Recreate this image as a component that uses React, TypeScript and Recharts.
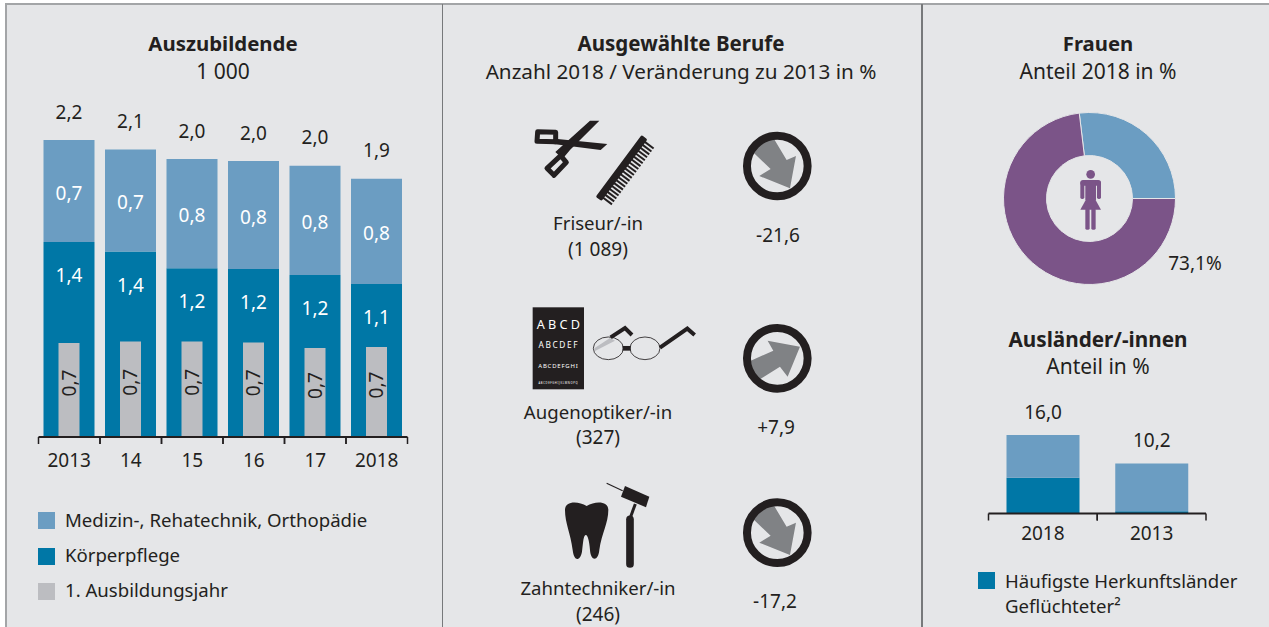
import React from "react";
import { BarChart, Bar, XAxis, YAxis, LabelList, PieChart, Pie, Cell } from "recharts";

// Auszubildende (1 000)
const jahre = ["2013", "14", "15", "16", "17", "2018"];
const medizin = [0.756, 0.756, 0.81, 0.8, 0.81, 0.78];
const koerperpflege = [1.444, 1.374, 1.25, 1.245, 1.2, 1.133];
const ersteJahr = [0.696, 0.707, 0.707, 0.7, 0.659, 0.667];
const medizinLabels = ["0,7", "0,7", "0,8", "0,8", "0,8", "0,8"];
const koerperLabels = ["1,4", "1,4", "1,2", "1,2", "1,2", "1,1"];
const ersteLabels = ["0,7", "0,7", "0,7", "0,7", "0,7", "0,7"];
const summenLabels = ["2,2", "2,1", "2,0", "2,0", "2,0", "1,9"];

// Frauen
const frauenAnteil = [26.9, 73.1];

// Ausländer/-innen
const auslJahre = ["2018", "2013"];
const gefluechtete = [7.3, 0.45];
const sonstige = [8.7, 9.75];
const auslLabels = ["16,0", "10,2"];

const azubiRows = jahre.map((jahr, i) => ({
  jahr,
  medizin: medizin[i],
  koerperpflege: koerperpflege[i],
  ersteJahr: ersteJahr[i],
  medizinLabel: medizinLabels[i],
  koerperLabel: koerperLabels[i],
  ersteLabel: ersteLabels[i],
  summeLabel: summenLabels[i],
}));
const auslRows = auslJahre.map((jahr, i) => ({
  jahr,
  gefluechtete: gefluechtete[i],
  sonstige: sonstige[i],
  label: auslLabels[i],
}));

const HELL = "#6b9dc2";
const DUNKEL = "#0077a6";
const GRAU = "#bcbdc1";
const LILA = "#7b5488";
const INK = "#231f20";
const BG = "#e5e6e8";
const FONT = "'Noto Sans', sans-serif";
const FS = 19;

function Txt({ x, y, bold, left, size, color, children }: any) {
  return (
    <div
      style={{
        position: "absolute",
        left: x,
        top: y,
        transform: left ? "translateY(-50%)" : "translate(-50%,-50%)",
        whiteSpace: "nowrap",
        fontFamily: FONT,
        fontSize: size || FS,
        lineHeight: 1,
        fontWeight: bold ? 700 : 400,
        color: color || INK,
      }}
    >
      {children}
    </div>
  );
}

function Swatch({ x, y, color }: any) {
  return <div style={{ position: "absolute", left: x, top: y, width: 17, height: 17, background: color }} />;
}

// tick marks sit on the band edges, the label in the middle
const bandTick = (band: number, textY: number) => (props: any) => {
  const { x, y, payload } = props;
  return (
    <g>
      <line x1={x - band / 2} x2={x - band / 2} y1={y} y2={y + 7} stroke={INK} strokeWidth={1.5} />
      <line x1={x + band / 2} x2={x + band / 2} y1={y} y2={y + 7} stroke={INK} strokeWidth={1.5} />
      <text x={x} y={y + textY} textAnchor="middle" fontFamily={FONT} fontSize={FS} fill={INK}>
        {payload.value}
      </text>
    </g>
  );
};

const boxLabel = (fill: string, place: "center" | "top" | "above", dy: number) => (props: any) => {
  const { viewBox, value } = props;
  const { x, y, width, height } = viewBox;
  const cy = place === "center" ? y + height / 2 : y;
  return (
    <text x={x + width / 2} y={cy + dy} dy="0.35em" textAnchor="middle" fontFamily={FONT} fontSize={FS} fill={fill}>
      {value}
    </text>
  );
};

const rotatedLabel = (props: any) => {
  const { viewBox, value } = props;
  const { x, y, width, height } = viewBox;
  const cx = x + width / 2;
  const cy = y + height / 2 - 7;
  return (
    <text
      x={cx}
      y={cy}
      dy="0.35em"
      textAnchor="middle"
      transform={`rotate(-90 ${cx} ${cy})`}
      fontFamily={FONT}
      fontSize={FS}
      fill={INK}
    >
      {value}
    </text>
  );
};

function RichtungsPfeil({ cx, cy, up, id }: any) {
  const down = "750,148 815,105 860,180 888,168 870,265 778,228 812,207";
  const upw = "900,740 803,722 820,752 735,790 765,847 840,800 863,830";
  const ox = 832;
  const oy = up ? 775 : 198;
  return (
    <g transform={`translate(${cx},${cy}) scale(0.3333) translate(${-ox},${-oy})`}>
      <clipPath id={id}>
        <circle cx={ox} cy={oy} r={86} />
      </clipPath>
      <polygon points={up ? upw : down} fill="#808285" clipPath={`url(#${id})`} />
      <circle cx={ox} cy={oy} r={91} fill="none" stroke={INK} strokeWidth={24} />
    </g>
  );
}

function Icons() {
  return (
    <svg width={1269} height={627} style={{ position: "absolute", left: 0, top: 0 }}>
      {/* scissors + comb, coordinates in 3x units */}
      <g transform="translate(500,100) scale(0.3333)" fill={INK}>
        <polygon points="270,62 298,62 210,150 188,176 166,156" />
        <polygon points="165,116 322,132 302,150 160,132" />
        <path d="M113,95 L167,97 L167,125 L111,124 Z" fill="none" stroke={INK} strokeWidth={15} strokeLinejoin="round" />
        <path d="M141,205 L182,167 L199,187 L162,226 Z" fill="none" stroke={INK} strokeWidth={15} strokeLinejoin="round" />
        <g transform="translate(425,105) rotate(126.7)">
          <rect x={0} y={-22} width={231} height={22} rx={5} />
          {Array.from({ length: 20 }, (_, i) => (
            <rect key={i} x={8 + i * 11} y={-53} width={6} height={33} />
          ))}
        </g>
        {/* eye chart */}
        <rect x={98} y={622} width={154} height={246} />
        <g fill="#fff" fontFamily={FONT} textAnchor="middle" lengthAdjust="spacing">
          <text x={175} y={686} fontSize={38} textLength={130}>ABCD</text>
          <text x={174} y={744} fontSize={25} textLength={117}>ABCDEF</text>
          <text x={174} y={803} fontSize={18} textLength={118}>ABCDEFGHI</text>
          <text x={174} y={852} fontSize={8} textLength={117}>ABCDEFGHIJKLMNOPQ</text>
        </g>
        {/* glasses */}
        <polygon points="283,745 330,714 345,722 285,753" fill={GRAU} />
        <ellipse cx={325} cy={745} rx={45} ry={34} fill="none" stroke={INK} strokeWidth={2.5} />
        <ellipse cx={435} cy={745} rx={45} ry={34} fill="none" stroke={INK} strokeWidth={2.5} />
        <rect x={368} y={738} width={24} height={14} />
        <polyline points="332,712 375,684 396,705" fill="none" stroke={INK} strokeWidth={12} />
        <polyline points="480,743 562,686 584,705" fill="none" stroke={INK} strokeWidth={12} />
      </g>
      {/* tooth + drill */}
      <g transform="translate(500,400) scale(0.3333)" fill={INK}>
        <path d="M195,330 C195,302 235,303 260,318 C285,303 325,302 325,330 C325,370 305,400 298,450 C295,485 272,485 270,450 C268,420 262,405 258,405 C250,405 250,425 246,455 C240,485 222,485 218,450 C212,400 195,370 195,330 Z" />
        <line x1={390} y1={358} x2={390} y2={492} stroke={INK} strokeWidth={23} strokeLinecap="round" />
        <line x1={392} y1={350} x2={406} y2={312} stroke={INK} strokeWidth={9} />
        <polygon points="375,258 448,290 438,322 363,290" />
        <line x1={320} y1={250} x2={368} y2={272} stroke={INK} strokeWidth={3.5} />
      </g>
      <RichtungsPfeil cx={777.3} cy={166} id="p1" />
      <RichtungsPfeil cx={777.3} cy={358.3} up id="p2" />
      <RichtungsPfeil cx={777.3} cy={532.7} id="p3" />
      {/* woman */}
      <g transform="translate(960,100) scale(0.3333)" fill={LILA}>
        <circle cx={392} cy={223} r={13} />
        <rect x={361} y={240} width={62} height={17} rx={8} />
        <rect x={361} y={244} width={12} height={53} rx={5} />
        <rect x={411} y={244} width={12} height={53} rx={5} />
        <rect x={376} y={240} width={32} height={60} />
        <polygon points="380,295 404,295 423,329 361,329" />
        <rect x={376} y={325} width={13} height={64} rx={4} />
        <rect x={394} y={325} width={13} height={64} rx={4} />
      </g>
    </svg>
  );
}

export default function App() {
  return (
    <div style={{ position: "fixed", left: 0, top: 0, width: 1269, height: 627, background: "#fff", overflow: "hidden" }}>
      {/* panel with frame */}
      <div style={{ position: "absolute", left: 6, top: 4, width: 1263, height: 623, background: BG }} />
      <div style={{ position: "absolute", left: 5, top: 3, width: 1264, height: 2, background: "#a3a5a7" }} />
      <div style={{ position: "absolute", left: 5, top: 3, width: 2, height: 624, background: "#a3a5a7" }} />
      <div style={{ position: "absolute", left: 441.5, top: 4, width: 1.5, height: 623, background: "#77797b" }} />
      <div style={{ position: "absolute", left: 921, top: 4, width: 1.5, height: 623, background: "#77797b" }} />

      <div style={{ position: "absolute", left: 0, top: 0 }}>
        <BarChart
          width={442}
          height={480}
          data={azubiRows}
          margin={{ top: 99.5, right: 34.5, bottom: 0, left: 38.5 }}
          barCategoryGap={0}
        >
          <YAxis hide domain={[0, 2.5]} />
          <XAxis
            dataKey="jahr"
            stroke={INK}
            axisLine={{ stroke: INK, strokeWidth: 2 }}
            tickLine={false}
            tickSize={0}
            tickMargin={0}
            height={43}
            interval={0}
            tick={bandTick(61.5, 29.5)}
          />
          <XAxis xAxisId="innen" dataKey="jahr" hide />
          <Bar dataKey="koerperpflege" stackId="a" fill={DUNKEL} barSize={51} isAnimationActive={false}>
            <LabelList dataKey="koerperLabel" content={boxLabel("#fff", "top", 33.5)} />
          </Bar>
          <Bar dataKey="medizin" stackId="a" fill={HELL} barSize={51} isAnimationActive={false}>
            <LabelList dataKey="medizinLabel" content={boxLabel("#fff", "center", 2)} />
            <LabelList dataKey="summeLabel" content={boxLabel(INK, "above", -28)} />
          </Bar>
          <Bar xAxisId="innen" dataKey="ersteJahr" fill={GRAU} barSize={21} isAnimationActive={false}>
            <LabelList dataKey="ersteLabel" content={rotatedLabel} />
          </Bar>
        </BarChart>
      </div>

      <div style={{ position: "absolute", left: 921, top: 90 }}>
        <PieChart width={348} height={215} margin={{ top: 0, right: 0, bottom: 0, left: 0 }}>
          <Pie
            data={frauenAnteil.map((value) => ({ value }))}
            dataKey="value"
            cx={168.5}
            cy={108.5}
            innerRadius={43}
            outerRadius={86}
            startAngle={0}
            endAngle={360}
            stroke={BG}
            strokeWidth={1}
            isAnimationActive={false}
          >
            <Cell fill={HELL} />
            <Cell fill={LILA} />
          </Pie>
        </PieChart>
      </div>

      <div style={{ position: "absolute", left: 922, top: 380 }}>
        <BarChart
          width={347}
          height={175}
          data={auslRows}
          margin={{ top: 33.5, right: 63, bottom: 0, left: 66.5 }}
          barCategoryGap={0}
        >
          <YAxis hide domain={[0, 20.41]} />
          <XAxis
            dataKey="jahr"
            axisLine={{ stroke: INK, strokeWidth: 2 }}
            tickLine={false}
            tickSize={0}
            tickMargin={0}
            height={41.5}
            interval={0}
            tick={bandTick(108.75, 26.5)}
          />
          <Bar dataKey="gefluechtete" stackId="a" fill={DUNKEL} barSize={73} isAnimationActive={false} />
          <Bar dataKey="sonstige" stackId="a" fill={HELL} barSize={73} isAnimationActive={false}>
            <LabelList dataKey="label" content={boxLabel(INK, "above", -23)} />
          </Bar>
        </BarChart>
      </div>

      <Icons />

      <Txt x={223} y={43} bold size={20.4}>Auszubildende</Txt>
      <Txt x={223} y={71} size={21}>1 000</Txt>
      <Txt x={681} y={43} bold size={20.5}>Ausgewählte Berufe</Txt>
      <Txt x={681} y={71} size={20.7}>Anzahl 2018 / Veränderung zu 2013 in %</Txt>
      <Txt x={1098} y={43} bold size={20.3}>Frauen</Txt>
      <Txt x={1098} y={71} size={21}>Anteil 2018 in %</Txt>
      <Txt x={1098} y={339} bold size={20.7}>Ausländer/-innen</Txt>
      <Txt x={1098} y={366} size={21}>Anteil in %</Txt>

      <Txt x={598} y={223} size={18.6}>Friseur/-in</Txt>
      <Txt x={598} y={249}>(1 089)</Txt>
      <Txt x={778} y={235}>-21,6</Txt>
      <Txt x={598} y={412} size={18.6}>Augenoptiker/-in</Txt>
      <Txt x={598} y={437}>(327)</Txt>
      <Txt x={776} y={427}>+7,9</Txt>
      <Txt x={598} y={588} size={18.6}>Zahntechniker/-in</Txt>
      <Txt x={598} y={614}>(246)</Txt>
      <Txt x={775} y={601}>-17,2</Txt>
      <Txt x={1195} y={263}>73,1%</Txt>

      <Swatch x={38} y={512} color={HELL} />
      <Txt x={65} y={520} left size={18.6}>Medizin-, Rehatechnik, Orthopädie</Txt>
      <Swatch x={38} y={548} color={DUNKEL} />
      <Txt x={65} y={555} left size={18.6}>Körperpflege</Txt>
      <Swatch x={38} y={583} color={GRAU} />
      <Txt x={65} y={590} left size={18.6}>1. Ausbildungsjahr</Txt>

      <Swatch x={978} y={572} color={DUNKEL} />
      <Txt x={1005} y={581} left size={18.6}>Häufigste Herkunftsländer</Txt>
      <Txt x={1005} y={606} left size={18.6}>Geflüchteter²</Txt>
    </div>
  );
}
